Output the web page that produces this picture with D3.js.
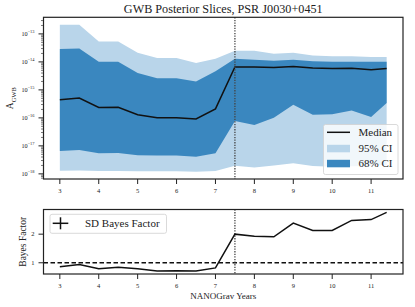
<!DOCTYPE html>
<html>
<head>
<meta charset="utf-8">
<script src="https://d3js.org/d3.v7.min.js"></script>
<style>
body { margin: 0; background: #fff; }
text { font-family: "Liberation Serif", serif; fill: #222; }
</style>
</head>
<body>
<script>
// NANOGrav years of each slice
var years = [3, 3.5, 4, 4.5, 5, 5.5, 6, 6.5, 7, 7.5, 8, 8.5, 9, 9.5, 10, 10.5, 11, 11.4];

// A_GWB posterior quantiles
var median = [4.47e-16, 5.13e-16, 2.34e-16, 2.40e-16, 1.29e-16, 1.02e-16, 1.02e-16, 9.1e-17, 2.09e-16,
              6.6e-15, 6.6e-15, 6.3e-15, 6.9e-15, 6.0e-15, 5.75e-15, 5.9e-15, 5.25e-15, 5.75e-15];
var hi95 = [2.14e-13, 2.14e-13, 5.4e-14, 5.4e-14, 2.1e-14, 1.38e-14, 1.38e-14, 9.1e-15, 1.29e-14,
            2.5e-14, 2.5e-14, 1.95e-14, 2.1e-14, 1.7e-14, 1.58e-14, 1.58e-14, 1.51e-14, 1.51e-14];
var hi68 = [2.9e-14, 3.0e-14, 1.02e-14, 1.02e-14, 4.0e-15, 2.6e-15, 2.6e-15, 2.0e-15, 4.6e-15,
            1.29e-14, 1.2e-14, 1.1e-14, 1.2e-14, 1.05e-14, 1.02e-14, 1.02e-14, 1.02e-14, 1.02e-14];
var lo68 = [6.6e-18, 7.1e-18, 5.4e-18, 5.6e-18, 4.6e-18, 4.5e-18, 4.5e-18, 4.1e-18, 5.4e-18,
            7.8e-17, 5.6e-17, 1.02e-16, 2.95e-16, 1.29e-16, 1.35e-16, 1.82e-16, 1.07e-16, 3.4e-16];
var lo95 = [1.29e-18, 1.32e-18, 1.26e-18, 1.26e-18, 1.23e-18, 1.23e-18, 1.23e-18, 1.20e-18, 1.26e-18,
            1.95e-18, 1.70e-18, 2.0e-18, 2.4e-18, 1.9e-18, 1.78e-18, 1.86e-18, 1.9e-18, 2.1e-18];

// Savage-Dickey Bayes factor
var bayes = [0.86, 0.94, 0.79, 0.84, 0.79, 0.71, 0.72, 0.71, 0.82,
             2.0, 1.93, 1.91, 2.39, 2.13, 2.13, 2.48, 2.51, 2.76];

var xTicks = [3, 4, 5, 6, 7, 8, 9, 10, 11];
var yTicksExp = [-13, -14, -15, -16, -17, -18];
var bfTicks = [1, 2];
var cutYear = 7.5;

var W = 415, H = 307;
var left = 43.5, right = 403;
var top1 = 17.3, bot1 = 179;
var top2 = 209.5, bot2 = 274;

var light = "#b9d5ea", dark = "#3a87bf", ink = "#222";

var svg = d3.select("body").append("svg")
  .attr("width", W).attr("height", H);

// x scale with matplotlib style 5% margins
var xr = d3.extent(years), xp = (xr[1] - xr[0]) * 0.05;
var x = d3.scaleLinear().domain([xr[0] - xp, xr[1] + xp]).range([left, right]);

var lmin = Math.log10(d3.min(lo95)), lmax = Math.log10(d3.max(hi95)), lp = (lmax - lmin) * 0.05;
var y = d3.scaleLog().domain([Math.pow(10, lmin - lp), Math.pow(10, lmax + lp)]).range([bot1, top1]);

var bmin = d3.min(bayes), bmax = d3.max(bayes), bp = (bmax - bmin) * 0.05;
var yb = d3.scaleLinear().domain([bmin - bp, bmax + bp]).range([bot2, top2]);

var rows = years.map(function(d, i) {
  return {x: d, m: median[i], h95: hi95[i], h68: hi68[i], l68: lo68[i], l95: lo95[i], bf: bayes[i]};
});

// ---- top panel ----
var g1 = svg.append("g");

g1.append("path").datum(rows)
  .attr("fill", light)
  .attr("d", d3.area().x(function(d) { return x(d.x); })
    .y0(function(d) { return y(d.l95); }).y1(function(d) { return y(d.h95); }));

g1.append("path").datum(rows)
  .attr("fill", dark)
  .attr("d", d3.area().x(function(d) { return x(d.x); })
    .y0(function(d) { return y(d.l68); }).y1(function(d) { return y(d.h68); }));

g1.append("path").datum(rows)
  .attr("fill", "none").attr("stroke", "#111").attr("stroke-width", 1.5)
  .attr("d", d3.line().x(function(d) { return x(d.x); }).y(function(d) { return y(d.m); }));

g1.append("line")
  .attr("x1", x(cutYear)).attr("x2", x(cutYear)).attr("y1", top1).attr("y2", bot1)
  .attr("stroke", "#444").attr("stroke-width", 1.3).attr("stroke-dasharray", "1.3,1.3");

// minor ticks on log axis
var minors = [];
for (var e = -19; e <= -12; e++) {
  for (var k = 2; k <= 9; k++) {
    var v = k * Math.pow(10, e);
    if (v >= y.domain()[0] && v <= y.domain()[1]) minors.push(v);
  }
}
g1.selectAll(".minor").data(minors).enter().append("line")
  .attr("x1", left - 2.5).attr("x2", left)
  .attr("y1", function(d) { return y(d); }).attr("y2", function(d) { return y(d); })
  .attr("stroke", ink).attr("stroke-width", 0.6);

yTicksExp.forEach(function(e) {
  var yy = y(Math.pow(10, e));
  g1.append("line").attr("x1", left - 5).attr("x2", left).attr("y1", yy).attr("y2", yy)
    .attr("stroke", ink).attr("stroke-width", 1);
  var t = g1.append("text").attr("x", 34.5).attr("y", yy + 2).attr("text-anchor", "end")
    .style("font-size", "6.2px");
  t.append("tspan").text("10");
  t.append("tspan").attr("dy", -2.6).style("font-size", "4.4px").text("\u2212" + (-e));
});

xTicks.forEach(function(v) {
  g1.append("line").attr("x1", x(v)).attr("x2", x(v)).attr("y1", bot1).attr("y2", bot1 + 5)
    .attr("stroke", ink).attr("stroke-width", 1);
  g1.append("text").attr("x", x(v)).attr("y", bot1 + 14).attr("text-anchor", "middle")
    .style("font-size", "6.5px").text(v);
});

g1.append("rect").attr("x", left).attr("y", top1).attr("width", right - left).attr("height", bot1 - top1)
  .attr("fill", "none").attr("stroke", ink).attr("stroke-width", 1.2);

svg.append("text").attr("x", (left + right) / 2).attr("y", 13).attr("text-anchor", "middle")
  .style("font-size", "12.2px").text("GWB Posterior Slices, PSR J0030+0451");

var yl = svg.append("text").attr("transform", "translate(13," + ((top1 + bot1) / 2) + ") rotate(-90)")
  .attr("text-anchor", "middle").style("font-size", "9.5px");
yl.append("tspan").text("A");
yl.append("tspan").attr("dy", 2.5).style("font-size", "6.5px").text("GWB");

// legend top
var lg = g1.append("g");
lg.append("rect").attr("x", 323.5).attr("y", 124.5).attr("width", 74.5).attr("height", 50)
  .attr("rx", 2).attr("fill", "#fff").attr("fill-opacity", 0.8).attr("stroke", "#d0d0d0").attr("stroke-width", 0.8);
lg.append("line").attr("x1", 327).attr("x2", 350).attr("y1", 132.3).attr("y2", 132.3)
  .attr("stroke", "#111").attr("stroke-width", 1.5);
lg.append("rect").attr("x", 327).attr("y", 144.8).attr("width", 23).attr("height", 7.5).attr("fill", light);
lg.append("rect").attr("x", 327).attr("y", 159.8).attr("width", 23).attr("height", 7.5).attr("fill", dark);
[["Median", 132.3], ["95% CI", 148.3], ["68% CI", 163.3]].forEach(function(r) {
  lg.append("text").attr("x", 358.5).attr("y", r[1] + 3.6).style("font-size", "11px").text(r[0]);
});

// ---- bottom panel ----
var g2 = svg.append("g");

g2.append("line").attr("x1", left).attr("x2", right).attr("y1", yb(1)).attr("y2", yb(1))
  .attr("stroke", "#111").attr("stroke-width", 1.3).attr("stroke-dasharray", "4.5,2.5");

g2.append("line")
  .attr("x1", x(cutYear)).attr("x2", x(cutYear)).attr("y1", top2).attr("y2", bot2)
  .attr("stroke", "#444").attr("stroke-width", 1.3).attr("stroke-dasharray", "1.3,1.3");

g2.append("path").datum(rows)
  .attr("fill", "none").attr("stroke", "#111").attr("stroke-width", 1.5)
  .attr("d", d3.line().x(function(d) { return x(d.x); }).y(function(d) { return yb(d.bf); }));

bfTicks.forEach(function(v) {
  var yy = yb(v);
  g2.append("line").attr("x1", left - 5).attr("x2", left).attr("y1", yy).attr("y2", yy)
    .attr("stroke", ink).attr("stroke-width", 1);
  g2.append("text").attr("x", 34.5).attr("y", yy + 2.2).attr("text-anchor", "end")
    .style("font-size", "6.5px").text(v);
});

xTicks.forEach(function(v) {
  g2.append("line").attr("x1", x(v)).attr("x2", x(v)).attr("y1", bot2).attr("y2", bot2 + 5)
    .attr("stroke", ink).attr("stroke-width", 1);
  g2.append("text").attr("x", x(v)).attr("y", bot2 + 14).attr("text-anchor", "middle")
    .style("font-size", "6.5px").text(v);
});

g2.append("rect").attr("x", left).attr("y", top2).attr("width", right - left).attr("height", bot2 - top2)
  .attr("fill", "none").attr("stroke", ink).attr("stroke-width", 1.2);

svg.append("text").attr("transform", "translate(26," + ((top2 + bot2) / 2) + ") rotate(-90)")
  .attr("text-anchor", "middle").style("font-size", "9.5px").text("Bayes Factor");

svg.append("text").attr("x", (left + right) / 2).attr("y", 299).attr("text-anchor", "middle")
  .style("font-size", "9px").text("NANOGrav Years");

// legend bottom
var lb = g2.append("g");
lb.append("rect").attr("x", 50).attr("y", 214.3).attr("width", 116.5).attr("height", 19)
  .attr("rx", 2).attr("fill", "#fff").attr("fill-opacity", 0.8).attr("stroke", "#d0d0d0").attr("stroke-width", 0.8);
lb.append("line").attr("x1", 52.7).attr("x2", 68.3).attr("y1", 223.3).attr("y2", 223.3)
  .attr("stroke", "#111").attr("stroke-width", 1.5);
lb.append("line").attr("x1", 60.5).attr("x2", 60.5).attr("y1", 217.3).attr("y2", 229.3)
  .attr("stroke", "#111").attr("stroke-width", 1.5);
lb.append("text").attr("x", 85).attr("y", 227).style("font-size", "11px").text("SD Bayes Factor");
</script>
</body>
</html>
